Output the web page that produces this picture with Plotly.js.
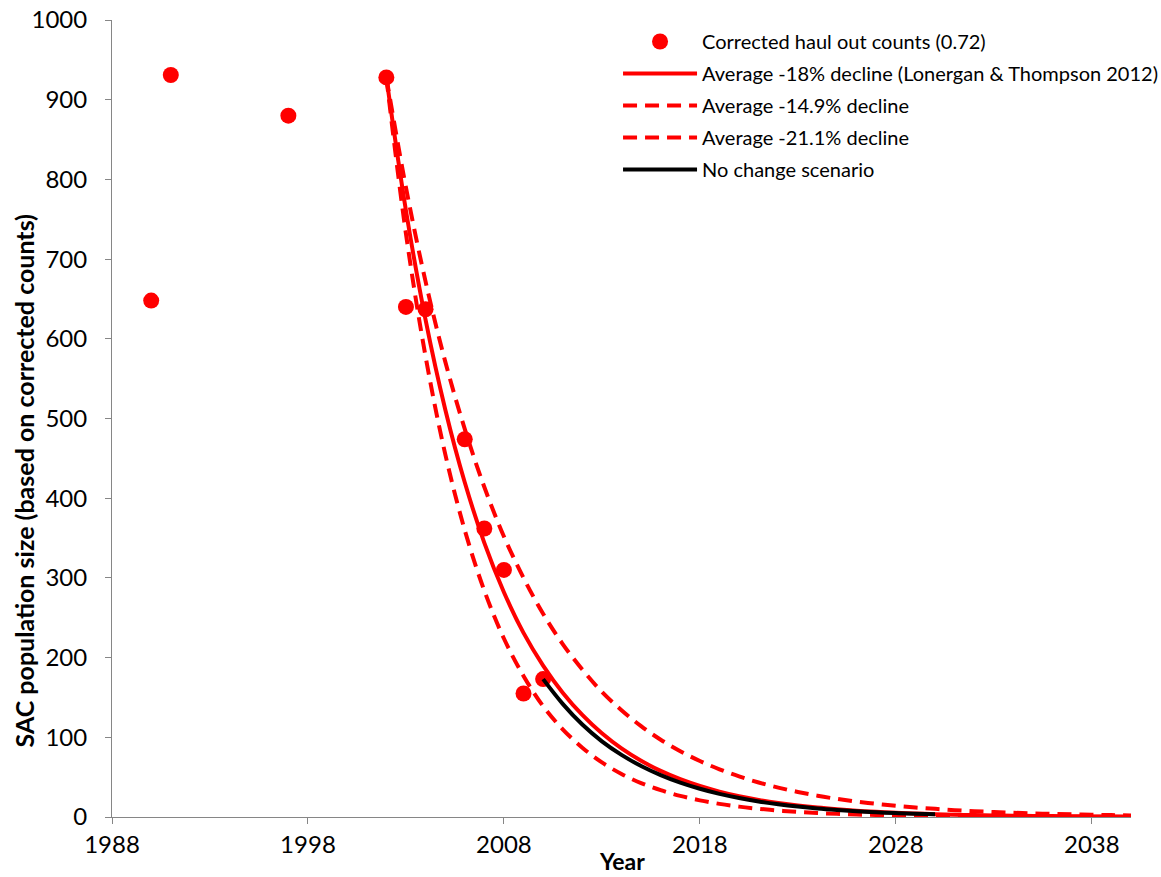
<!DOCTYPE html>
<html>
<head>
<meta charset="utf-8">
<script src="https://cdn.plot.ly/plotly-3.0.1.min.js"></script>
<style>html,body{margin:0;padding:0;background:#fff;}#chart{width:1161px;height:877px;}</style>
</head>
<body>
<div id="chart"></div>
<script>
// Observed corrected haul-out counts
var countYears = [1990, 1991, 1997, 2002, 2003, 2004, 2006, 2007, 2008, 2009, 2010];
var countValues = [648, 931, 880, 928, 640, 637, 474, 362, 310, 155, 173];

// Projection years (2002-2040)
var projYears = [2002,2003,2004,2005,2006,2007,2008,2009,2010,2011,2012,2013,2014,2015,2016,2017,2018,2019,2020,2021,2022,2023,2024,2025,2026,2027,2028,2029,2030,2031,2032,2033,2034,2035,2036,2037,2038,2039,2040];
var decline18 = [928,761,624,512,420,344,282,231,190,156,128,105,86,70.5,57.8,47.4,38.9,31.9,26.1,21.4,17.6,14.4,11.8,9.7,7.9,6.5,5.3,4.4,3.6,2.9,2.4,2.0,1.6,1.3,1.1,0.9,0.7,0.6,0.5];
var decline149 = [928,790,672,572,487,414,352,300,255,217,185,157,134,114,97,82.6,70.3,59.8,50.9,43.3,36.9,31.4,26.7,22.7,19.3,16.5,14.0,11.9,10.2,8.6,7.3,6.3,5.3,4.5,3.9,3.3,2.8,2.4,2.0];
var decline211 = [928,732,578,456,360,284,224,177,139,110,87,68.5,54,42.6,33.6,26.5,20.9,16.5,13.0,10.3,8.1,6.4,5.0,4.0,3.1,2.5,1.9,1.5,1.2,1.0,0.8,0.6,0.5,0.4,0.3,0.2,0.2,0.2,0.1];

// No change scenario (2010-2030)
var noChangeYears = [2010,2011,2012,2013,2014,2015,2016,2017,2018,2019,2020,2021,2022,2023,2024,2025,2026,2027,2028,2029,2030];
var noChangeValues = [173,142,116,95,78,64,52.6,43.1,35.4,29.0,23.8,19.5,16.0,13.1,10.7,8.8,7.2,5.9,4.9,4.0,3.3];

var xTicks = [1988, 1998, 2008, 2018, 2028, 2038];
var yTicks = [0, 100, 200, 300, 400, 500, 600, 700, 800, 900, 1000];

var names = [
  'Corrected haul out counts (0.72)',
  'Average -18% decline (Lonergan &amp; Thompson 2012)',
  'Average -14.9% decline',
  'Average -21.1% decline',
  'No change scenario'
];

var FONT = 'Lato, "Open Sans", sans-serif';
var RED = '#FF0000';

var traces = [
  {x: countYears, y: countValues, mode: 'markers', type: 'scatter', name: names[0], legendgroup: 'g0',
   marker: {color: RED, size: 16}},
  {x: projYears, y: decline18, mode: 'lines', type: 'scatter', name: names[1], legendgroup: 'g1',
   line: {color: RED, width: 4, shape: 'spline'}},
  {x: projYears, y: decline149, mode: 'lines', type: 'scatter', name: names[2], legendgroup: 'g2',
   line: {color: RED, width: 4, dash: '14px,8px', shape: 'spline'}},
  {x: projYears, y: decline211, mode: 'lines', type: 'scatter', name: names[3], legendgroup: 'g3',
   line: {color: RED, width: 4, dash: '14px,8px', shape: 'spline'}},
  {x: noChangeYears, y: noChangeValues, mode: 'lines', type: 'scatter', name: names[4], legendgroup: 'g4',
   line: {color: '#000000', width: 4, shape: 'spline'}}
];

var layout = {
  width: 1161, height: 877,
  margin: {l: 112, r: 30, t: 20, b: 60, autoexpand: false},
  paper_bgcolor: '#ffffff', plot_bgcolor: '#ffffff',
  font: {family: FONT, size: 24, color: '#000000'},
  showlegend: true,
  legend: {x: 0.4966, y: 0.9975, xanchor: 'left', yanchor: 'top',
           font: {family: FONT, size: 20, color: '#000000'},
           bgcolor: 'rgba(0,0,0,0)', itemwidth: 74, traceorder: 'grouped', tracegroupgap: 3},
  xaxis: {range: [1988, 2040], tickvals: xTicks, ticktext: xTicks.map(String),
          showgrid: false, zeroline: false, showline: true, linecolor: '#868686', linewidth: 1,
          ticks: 'outside', ticklen: 6, tickcolor: '#868686',
          tickfont: {family: FONT, size: 24}},
  yaxis: {range: [0, 1000], tickvals: yTicks, ticktext: yTicks.map(String),
          showgrid: false, zeroline: false, showline: true, linecolor: '#868686', linewidth: 1,
          ticks: 'outside', ticklen: 6, tickcolor: '#868686', ticklabelstandoff: 13,
          tickfont: {family: FONT, size: 24}},
  annotations: [
    {text: '<b>SAC population size (based on corrected counts)</b>', xref: 'paper', yref: 'paper',
     x: 0, y: 0.421, xanchor: 'center', yanchor: 'middle', xshift: -88, textangle: -90, showarrow: false,
     font: {family: FONT, size: 25, color: '#000'}},
    {text: '<b>Year</b>', xref: 'paper', yref: 'paper', x: 0.5, y: 0, yanchor: 'bottom', yshift: -59,
     showarrow: false, borderpad: 0, font: {family: FONT, size: 23, color: '#000'}}
  ]
};

Plotly.newPlot('chart', traces, layout, {displayModeBar: false, staticPlot: true});
</script>
</body>
</html>
